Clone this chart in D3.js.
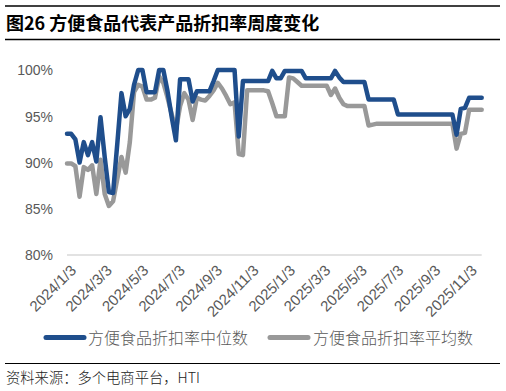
<!DOCTYPE html>
<html>
<head>
<meta charset="utf-8">
<script src="https://cdn.jsdelivr.net/npm/d3@7"></script>
<style>
  html, body { margin: 0; padding: 0; background: #fff; }
  svg { display: block; }
</style>
</head>
<body>
<svg id="chart" width="506" height="391"></svg>
<script>
// ---- data ----
const titleText = "图26 方便食品代表产品折扣率周度变化";
const sourceText = "资料来源：多个电商平台，HTI";
const seriesNames = ["方便食品折扣率中位数", "方便食品折扣率平均数"];
const firstWeek = "2024-01-03"; // weekly observations
const medianValues = [
  93.1, 93.1, 92.5, 90.0, 92.2, 90.8, 92.2, 90.1, 94.9, 90.6,
  86.8, 86.7, 92.0, 97.5, 95.0, 95.8, 98.4, 100, 100, 97.6,
  97.6, 97.6, 100, 100, 97.7, 94.9, 92.4, 99.0, 99.0, 99.0,
  96.6, 97.7, 97.7, 97.7, 97.7, 98.8, 100, 100, 100, 100,
  100, 92.8, 98.8, 98.8, 98.8, 98.8, 98.8, 98.8, 98.8, 99.9,
  99.1, 99.1, 99.9, 99.9, 99.9, 99.9, 99.9, 99.1, 99.1, 99.1,
  99.1, 99.1, 99.1, 99.1, 99.9, 99.2, 98.7, 98.7, 98.7, 98.7,
  98.7, 98.7, 96.8, 96.8, 96.8, 96.8, 96.8, 96.8, 96.8, 95.2,
  95.2, 95.2, 95.2, 95.2, 95.2, 95.2, 95.2, 95.2, 95.2, 95.2,
  95.2, 95.2, 95.2, 93.0, 95.8, 95.9, 97.0, 97.0, 97.0, 97.0
];
const meanValues = [
  89.9, 89.9, 89.6, 86.3, 89.5, 89.2, 89.7, 86.6, 90.3, 86.6,
  85.3, 85.8, 88.2, 90.6, 88.9, 92.2, 97.6, 98.4, 98.2, 96.8,
  96.8, 97.0, 99.3, 98.6, 97.0, 95.2, 93.5, 96.1, 97.5, 96.8,
  94.6, 97.0, 96.8, 96.7, 97.2, 97.8, 98.6, 98.0, 97.2, 96.3,
  96.5, 90.9, 90.8, 97.8, 97.8, 97.8, 97.8, 97.8, 97.7, 96.4,
  95.0, 95.0, 95.0, 99.2, 99.1, 98.7, 98.3, 98.3, 98.3, 98.3,
  98.3, 98.3, 98.3, 97.3, 98.0, 97.0, 96.3, 96.1, 96.1, 96.1,
  96.1, 96.1, 94.0, 94.1, 94.2, 94.2, 94.2, 94.2, 94.2, 94.2,
  94.2, 94.2, 94.2, 94.2, 94.2, 94.2, 94.2, 94.2, 94.2, 94.2,
  94.2, 94.2, 94.2, 91.5, 93.1, 93.2, 95.7, 95.7, 95.7, 95.7
];
const xTickLabels = ["2024/1/3","2024/3/3","2024/5/3","2024/7/3","2024/9/3","2024/11/3",
                     "2025/1/3","2025/3/3","2025/5/3","2025/7/3","2025/9/3","2025/11/3"];
const yTickValues = [80, 85, 90, 95, 100];

// ---- build ----
const parse = d3.timeParse("%Y-%m-%d");
const parseLabel = d3.timeParse("%Y/%m/%d");
const start = parse(firstWeek);
const dates = medianValues.map((_, i) => d3.timeDay.offset(start, 7 * i));

const svg = d3.select("#chart");

const x = d3.scaleTime()
  .domain([dates[0], dates[dates.length - 1]])
  .range([67, 481.7]);
const y = d3.scaleLinear().domain([80, 100]).range([255, 70]);

const axisColor = "#595959";
const latin = "'Liberation Sans', Arial, sans-serif";
const cjk = "'Noto Sans CJK SC', sans-serif";

// Title and rules
svg.append("line").attr("x1", 5).attr("x2", 500).attr("y1", 6).attr("y2", 6)
  .attr("stroke", "#000").attr("stroke-width", 1.5);
svg.append("line").attr("x1", 5).attr("x2", 500).attr("y1", 39.5).attr("y2", 39.5)
  .attr("stroke", "#000").attr("stroke-width", 1.5);
svg.append("text").attr("x", 6).attr("y", 29.5)
  .attr("font-family", cjk).attr("font-weight", "bold").attr("font-size", 18)
  .attr("fill", "#000").text(titleText);

// Y axis (labels only) + baseline
const yAxis = d3.axisLeft(y).tickValues(yTickValues).tickSize(0).tickPadding(0)
  .tickFormat(d => d + "%");
const gy = svg.append("g").attr("transform", "translate(53,0)").call(yAxis);
gy.select(".domain").remove();
gy.selectAll("text").attr("font-family", latin).attr("font-size", 14)
  .attr("fill", axisColor).attr("dy", "0.35em");

svg.append("line").attr("x1", 67).attr("x2", 481.7)
  .attr("y1", y(80)).attr("y2", y(80))
  .attr("stroke", "#d9d9d9").attr("stroke-width", 1.5);

// X axis labels
const tickDates = xTickLabels.map(s => parseLabel(s));
const xAxis = d3.axisBottom(x).tickValues(tickDates).tickSize(0)
  .tickFormat((d, i) => xTickLabels[i]);
const gx = svg.append("g").attr("transform", "translate(0,266)").call(xAxis);
gx.select(".domain").remove();
gx.selectAll("text")
  .attr("font-family", latin).attr("font-size", 15).attr("fill", axisColor)
  .attr("text-anchor", "end")
  .attr("transform", "rotate(-45)")
  .attr("x", 0).attr("y", 0).attr("dx", "0.2em").attr("dy", "0.7em");

// Lines
const colors = ["#1f4e8c", "#999999"];
const line = d3.line().x((d, i) => x(dates[i])).y(d => y(d));
[meanValues, medianValues].forEach((vals, k) => {
  svg.append("path").datum(vals)
    .attr("d", line)
    .attr("fill", "none")
    .attr("stroke", k === 0 ? colors[1] : colors[0])
    .attr("stroke-width", 4.5)
    .attr("stroke-linejoin", "round")
    .attr("stroke-linecap", "round");
});

// Legend
const legendItems = [
  { name: seriesNames[0], color: colors[0], x1: 46, x2: 84, tx: 88 },
  { name: seriesNames[1], color: colors[1], x1: 270, x2: 308, tx: 313 }
];
const lg = svg.append("g");
legendItems.forEach(it => {
  lg.append("line").attr("x1", it.x1).attr("x2", it.x2).attr("y1", 337.5).attr("y2", 337.5)
    .attr("stroke", it.color).attr("stroke-width", 5).attr("stroke-linecap", "round");
  lg.append("text").attr("x", it.tx).attr("y", 343.5)
    .attr("font-family", cjk).attr("font-weight", 300).attr("font-size", 16).attr("fill", axisColor)
    .text(it.name);
});

// Source
svg.append("line").attr("x1", 5).attr("x2", 500).attr("y1", 363.5).attr("y2", 363.5)
  .attr("stroke", "#000").attr("stroke-width", 1.2);
svg.append("text").attr("x", 6).attr("y", 382.5)
  .attr("font-family", cjk).attr("font-weight", 300).attr("font-size", 14.3).attr("fill", "#222")
  .text(sourceText);
</script>
</body>
</html>
